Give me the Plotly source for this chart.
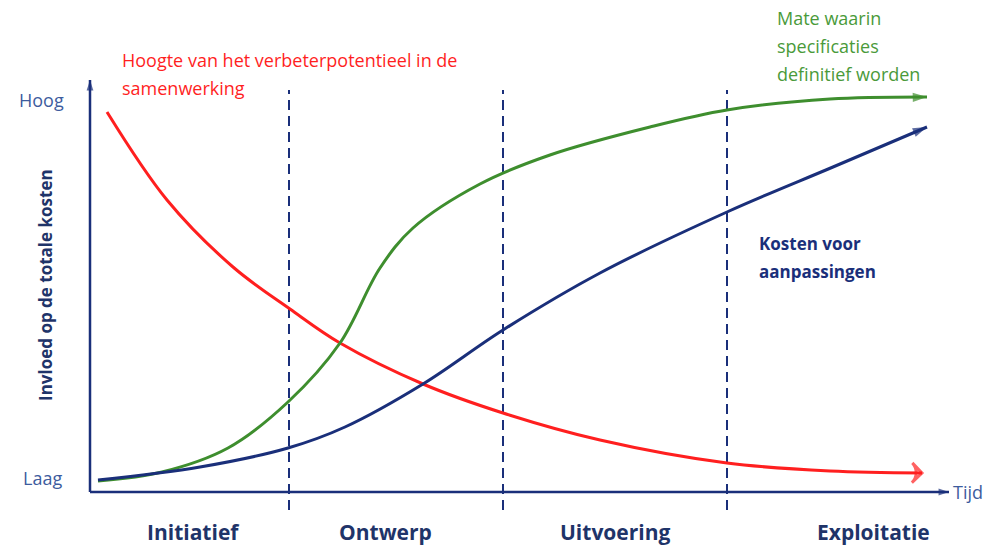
import plotly.graph_objects as go

# ---- data (x = time, y = influence on total cost; arbitrary units) ----
red_x = [17, 77, 143, 200, 250, 333, 413, 510, 637, 740, 832]
red_y = [380, 292, 225, 183, 149, 108, 79, 52, 29, 21, 19]

green_x = [8, 72, 138, 198, 250, 290, 323, 390, 460, 560, 637, 740, 837]
green_y = [11, 20, 44, 90, 149, 224, 264, 308, 337, 365, 382, 393, 395]

blue_x = [8, 110, 198, 255, 333, 413, 510, 637, 743, 837]
blue_y = [12, 25, 44, 65, 108, 162, 219, 280, 325, 365]

phase_bounds = [199, 413, 637]
phase_names = ["Initiatief", "Ontwerp", "Uitvoering", "Exploitatie"]
phase_centers = [103, 295, 525, 783]

red_label = ["Hoogte van het verbeterpotentieel in de", "samenwerking"]
green_label = ["Mate waarin", "specificaties", "definitief worden"]
blue_label = ["Kosten voor", "aanpassingen"]

RED = "#FF1F1F"
GREEN = "#3E8E2E"
NAVY = "#1A2F7A"
DARK = "#1F3469"
STEEL = "#3D5C9E"
FONT = "Open Sans"

fig = go.Figure()


def arrow_line(xs, ys, color, width, symbol, size, smooth=1.0):
    n = len(xs)
    fig.add_trace(go.Scatter(
        x=xs, y=ys, mode="lines+markers",
        line=dict(color=color, width=width, shape="spline", smoothing=smooth),
        marker=dict(symbol=["circle"] * (n - 1) + [symbol],
                    size=[0] * (n - 1) + [size],
                    angleref="previous", color=color,
                    line=dict(color=color, width=3 if "open" in symbol else 0)),
        hoverinfo="skip", showlegend=False, cliponaxis=False))


# axes
arrow_line([0, 859], [0, 0], NAVY, 2.5, "arrow", 11)
arrow_line([0, 0], [0, 412], NAVY, 2.5, "arrow", 11)

# phase boundaries
for b in phase_bounds:
    fig.add_trace(go.Scatter(x=[b, b], y=[-18, 402], mode="lines",
                             line=dict(color=NAVY, width=2, dash="10px,6px"),
                             hoverinfo="skip", showlegend=False))

# curves
arrow_line(red_x, red_y, RED, 3, "arrow-wide-open", 14)
arrow_line(green_x, green_y, GREEN, 3, "arrow", 15)
arrow_line(blue_x, blue_y, NAVY, 3, "arrow", 15)

annots = []
for name, cx in zip(phase_names, phase_centers):
    annots.append(dict(x=cx, y=-40, text=name, showarrow=False,
                       font=dict(family=FONT, size=21, color=DARK, weight="bold")))

for i, t in enumerate(red_label):
    annots.append(dict(x=30, y=432 - 28 * i, xanchor="left", text=t, showarrow=False,
                       font=dict(family=FONT, size=18, color=RED)))
for i, t in enumerate(green_label):
    annots.append(dict(x=685, y=474 - 28 * i, xanchor="left", text=t, showarrow=False,
                       font=dict(family=FONT, size=18, color="#4A9A3A")))
for i, t in enumerate(blue_label):
    annots.append(dict(x=667, y=249 - 28 * i, xanchor="left", text=t, showarrow=False,
                       font=dict(family=FONT, size=17, color=NAVY, weight="bold")))

annots += [
    dict(x=-49, y=392, text="Hoog", showarrow=False,
         font=dict(family=FONT, size=18, color=STEEL)),
    dict(x=-48, y=14, text="Laag", showarrow=False,
         font=dict(family=FONT, size=18, color=STEEL)),
    dict(x=861, y=0, xanchor="left", text="Tijd", showarrow=False,
         font=dict(family=FONT, size=18, color=STEEL)),
    dict(x=-45, y=207, text="Invloed op de totale kosten", textangle=-90,
         showarrow=False, font=dict(family=FONT, size=17, color=DARK, weight="bold")),
]

fig.update_layout(
    width=989, height=548,
    margin=dict(l=0, r=0, t=0, b=0),
    paper_bgcolor="white", plot_bgcolor="white",
    xaxis=dict(range=[-90, 899], visible=False, fixedrange=True),
    yaxis=dict(range=[-56, 492], visible=False, fixedrange=True),
    annotations=annots,
    showlegend=False,
)

fig.write_html("out.html", config={"displayModeBar": False},
               post_script="document.body.style.margin='0';document.body.style.overflow='hidden';")
